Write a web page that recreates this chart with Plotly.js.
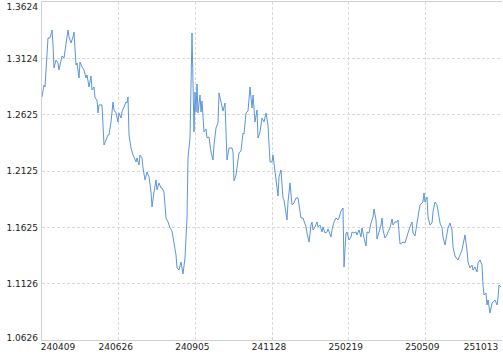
<!DOCTYPE html>
<html>
<head>
<meta charset="utf-8">
<script src="https://cdn.plot.ly/plotly-3.0.1.min.js"></script>
<style>
html,body{margin:0;padding:0;background:#fff;}
#chart{width:503px;height:355px;}
</style>
</head>
<body>
<div id="chart"></div>
<script>
// trading-day index and net value series
const dayIdx = [0,2,3,5,6,8,10,11,12,14,16,17,19,20,22,24,26,27,29,31,32,34,35,37,38,40,42,44,45,47,49,50,52,53,55,56,57,60,61,62,64,66,67,69,71,72,74,76,77,79,80,82,84,85,86,87,89,91,92,94,95,97,98,100,101,103,105,107,109,110,112,114,115,117,119,120,122,124,126,128,130,131,133,134,135,137,139,140,141,143,145,146,148,150,152,153,154,155,156,158,159,160,162,164,165,167,169,171,172,174,176,177,179,181,183,185,187,190,191,192,194,196,197,199,201,202,204,206,208,210,211,213,215,216,218,220,222,224,226,228,230,231,233,236,237,239,241,242,245,246,248,250,252,254,256,259,261,264,265,267,269,270,271,273,275,276,278,280,281,283,285,286,289,290,292,294,296,297,299,301,302,304,305,307,309,310,312,314,315,317,319,320,322,324,325,327,329,331,332,334,335,337,339,340,341,343,345,346,348,350,351,353,355,356,358,360,361,363,365,366,368,370,371,373,375,376,378,380,381,382,383,385,386,388,390,391,393,395,396,398,400,401,403,405,406,408,410,411,413,415,416,418,420,421,423,425,426,428,430,431,433,435,436,438,440,441,442,444,445,446,448,450,451,453,455,456,457,459];
const navValues = [1.2782,1.2888,1.2870,1.3110,1.3305,1.3305,1.3376,1.3243,1.3039,1.3110,1.3083,1.3021,1.3092,1.3145,1.3128,1.3243,1.3376,1.3314,1.3261,1.3314,1.3358,1.3065,1.3083,1.2950,1.3092,1.3048,1.3021,1.2950,1.2977,1.2870,1.2968,1.2844,1.2870,1.2773,1.2755,1.2640,1.2711,1.2711,1.2445,1.2356,1.2400,1.2445,1.2445,1.2560,1.2737,1.2666,1.2640,1.2560,1.2640,1.2595,1.2649,1.2693,1.2737,1.2728,1.2782,1.2445,1.2329,1.2267,1.2241,1.2205,1.2241,1.2178,1.2267,1.2241,1.2152,1.2045,1.2116,1.2072,1.1939,1.1806,1.1939,1.2045,1.1957,1.2019,1.1974,1.1974,1.1939,1.1708,1.1673,1.1620,1.1593,1.1531,1.1407,1.1380,1.1265,1.1247,1.1318,1.1247,1.1212,1.1354,1.1708,1.2241,1.2418,1.3349,1.2471,1.2826,1.2649,1.2897,1.2640,1.2799,1.2649,1.2746,1.2471,1.2498,1.2418,1.2427,1.2294,1.2223,1.2356,1.2507,1.2551,1.2817,1.2737,1.2657,1.2728,1.2223,1.2329,1.2329,1.2294,1.2037,1.2090,1.2196,1.2285,1.2303,1.2462,1.2453,1.2640,1.2657,1.2870,1.2684,1.2799,1.2560,1.2666,1.2418,1.2471,1.2595,1.2560,1.2640,1.2533,1.2205,1.2205,1.2267,1.2116,1.1903,1.2072,1.2134,1.1886,1.1868,1.1691,1.1850,1.2019,1.1824,1.1841,1.1886,1.1886,1.1708,1.1708,1.1629,1.1575,1.1495,1.1646,1.1673,1.1602,1.1629,1.1673,1.1629,1.1646,1.1584,1.1629,1.1575,1.1584,1.1611,1.1540,1.1602,1.1673,1.1708,1.1691,1.1708,1.1770,1.1797,1.1274,1.1575,1.1584,1.1513,1.1540,1.1584,1.1575,1.1584,1.1558,1.1602,1.1540,1.1620,1.1531,1.1460,1.1584,1.1575,1.1664,1.1717,1.1788,1.1691,1.1522,1.1584,1.1646,1.1708,1.1602,1.1531,1.1558,1.1584,1.1620,1.1699,1.1646,1.1673,1.1673,1.1691,1.1478,1.1487,1.1495,1.1487,1.1558,1.1575,1.1629,1.1673,1.1575,1.1549,1.1664,1.1735,1.1824,1.1841,1.1850,1.1930,1.1850,1.1895,1.1717,1.1646,1.1664,1.1762,1.1850,1.1824,1.1753,1.1664,1.1620,1.1540,1.1469,1.1558,1.1620,1.1664,1.1602,1.1451,1.1371,1.1345,1.1336,1.1380,1.1424,1.1469,1.1558,1.1424,1.1318,1.1265,1.1291,1.1247,1.1274,1.1229,1.1309,1.1336,1.1291,1.1114,1.1025,1.1043,1.0937,1.0981,1.0866,1.0954,1.0963,1.0981,1.0937,1.0999,1.1114,1.1096];
const xTickLabels = ['240409','240626','240905','241128','250219','250509','251013'];
const yTickValues = [1.0626,1.1126,1.1625,1.2125,1.2625,1.3124,1.3624];
const yTickLabels = ['1.0626','1.1126','1.1625','1.2125','1.2625','1.3124','1.3624'];

const xMax = 460;
const xGrid = xTickLabels.map((_, i) => xMax * i / (xTickLabels.length - 1));
const xLabelPos = xGrid.map(v => Math.min(Math.max(v - 3, 16), 439));
const yMin = yTickValues[0], yMax = yTickValues[yTickValues.length - 1];
const pxUnit = (yMax - yMin) / 338;
const yLabelPos = yTickValues.map((v, i) => i === yTickValues.length - 1 ? v - 5 * pxUnit : (i === 0 ? v + 2 * pxUnit : v));

const font = {family: 'DejaVu Sans, Verdana, sans-serif', size: 9, color: '#222'};

const traces = [
  {x: dayIdx, y: navValues, type: 'scatter', mode: 'lines',
   line: {color: '#5b95dc', width: 1}, hoverinfo: 'skip'},
  {x: [], y: [], xaxis: 'x2', yaxis: 'y2', type: 'scatter', mode: 'lines', hoverinfo: 'skip', showlegend: false}
];

const layout = {
  width: 503, height: 355,
  margin: {l: 42, r: 1, t: 2, b: 15, pad: 0},
  paper_bgcolor: '#fff', plot_bgcolor: '#fff',
  showlegend: false,
  font: font,
  xaxis: {
    range: [0, xMax], tickmode: 'array', tickvals: xGrid, showticklabels: false,
    showgrid: true, gridcolor: '#d9d9d9', griddash: '3px,2px', gridwidth: 1,
    zeroline: false, showline: true, linecolor: '#d0d0d0', linewidth: 1, mirror: true, ticks: ''
  },
  yaxis: {
    range: [yMin, yMax], tickmode: 'array', tickvals: yTickValues, showticklabels: false,
    showgrid: true, gridcolor: '#d9d9d9', griddash: '3px,2px', gridwidth: 1,
    zeroline: false, showline: true, linecolor: '#d0d0d0', linewidth: 1, ticks: ''
  },
  xaxis2: {
    overlaying: 'x', anchor: 'y', side: 'bottom', range: [0, xMax],
    tickmode: 'array', tickvals: xLabelPos, ticktext: xTickLabels,
    showgrid: false, zeroline: false, showline: false, ticks: '', tickfont: font
  },
  yaxis2: {
    overlaying: 'y', anchor: 'x', side: 'left', range: [yMin, yMax],
    tickmode: 'array', tickvals: yLabelPos, ticktext: yTickLabels,
    showgrid: false, zeroline: false, showline: false, ticks: '', tickfont: font,
    ticklabelstandoff: 3
  }
};

Plotly.newPlot('chart', traces, layout, {displayModeBar: false, staticPlot: true});
</script>
</body>
</html>
